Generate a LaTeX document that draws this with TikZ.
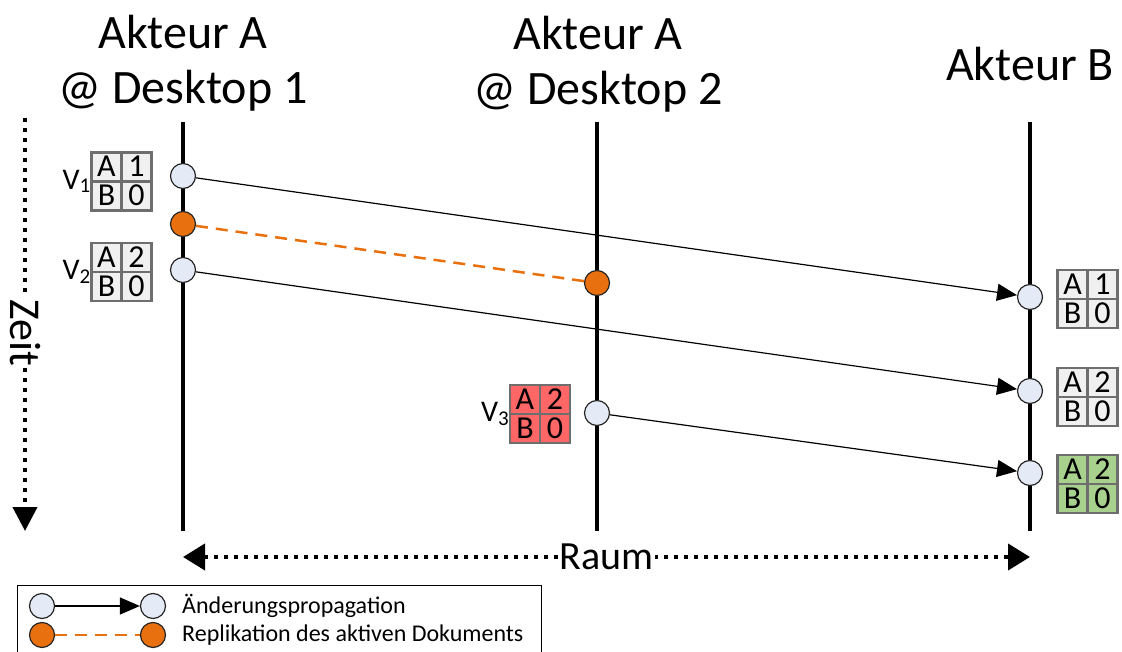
\documentclass[tikz,border=0pt]{standalone}
\usepackage{fontspec}
\setmainfont{Carlito}
\usepackage{xcolor}
\definecolor{DotBlue}{HTML}{E4EBF6}
\definecolor{Repl}{HTML}{E8700F}
\definecolor{CellGray}{HTML}{F0F0F0}
\definecolor{CellLine}{HTML}{6E6E6E}
\definecolor{CellRed}{HTML}{FF6666}
\definecolor{CellGreen}{HTML}{A9D18E}
\usepackage{tikz}
\usetikzlibrary{arrows.meta}

% version vector: name, centre, fill, value A, value B
\newcommand{\vecbox}[5]{%
  \node[cell,fill=#3,anchor=south east] (#1-a) at (#2) {A};
  \node[cell,fill=#3,anchor=south west] (#1-va) at (#2) {#4};
  \node[cell,fill=#3,anchor=north east] (#1-b) at (#2) {B};
  \node[cell,fill=#3,anchor=north west] (#1-vb) at (#2) {#5};
}
\newcommand{\vsub}[1]{V\raisebox{-0.12em}{\fontsize{21}{21}\selectfont #1}}

\begin{document}
\begin{tikzpicture}[x=1pt,y=-1pt,
  title/.style={font=\fontsize{48}{55}\selectfont,align=center},
  lifeline/.style={line width=4pt},
  dot/.style={circle,draw=black!85,line width=1.2pt,fill=DotBlue,minimum size=25pt,inner sep=0pt},
  repdot/.style={dot,fill=Repl},
  cell/.style={draw=CellLine,line width=2.5pt,minimum width=30pt,minimum height=29pt,inner sep=0pt,outer sep=0pt,
    text height=20pt,text depth=0pt,font=\fontsize{32}{32}\selectfont},
  vlabel/.style={font=\fontsize{30}{30}\selectfont,anchor=east,inner sep=1pt},
  prop/.style={-{Triangle[length=20pt,width=17pt]},line width=1.2pt},
  repl/.style={draw=Repl,line width=2.5pt,dash pattern=on 12pt off 8pt},
  axis/.style={line width=4pt,dash pattern=on 4pt off 6pt},
  axislabel/.style={font=\fontsize{40}{40}\selectfont,fill=white,inner sep=2pt},
  legend/.style={font=\fontsize{24}{24}\selectfont,anchor=west,inner sep=0pt}
]
  \useasboundingbox (0,0) rectangle (1122,652);

  % actors
  \node[title] (desk1) at (183,63) {Akteur A\\@ Desktop 1};
  \node[title] (desk2) at (598,64) {Akteur A\\@ Desktop 2};
  \node[title] (actb) at (1030,64) {Akteur B};

  \coordinate (l1top) at (183,122);
  \coordinate (l1bot) at (183,531);
  \coordinate (l2top) at (597,122);
  \coordinate (l2bot) at (597,531);
  \coordinate (l3top) at (1030,122);
  \coordinate (l3bot) at (1030,531);
  \draw[lifeline] (l1top) -- (l1bot);
  \draw[lifeline] (l2top) -- (l2bot);
  \draw[lifeline] (l3top) -- (l3bot);

  % time and space
  \coordinate (t0) at (25,118);
  \coordinate (t1) at (25,531);
  \draw[axis,-{Triangle[length=24pt,width=24pt]}] (t0) -- (t1)
    node[axislabel,font=\fontsize{44}{44}\selectfont,pos=0.52,rotate=-90] (zeit) {Zeit};
  \coordinate (r0) at (183,557);
  \coordinate (r1) at (1030,557);
  \draw[axis,{Triangle[length=22pt,width=26pt]}-{Triangle[length=22pt,width=26pt]}] (r0) -- (r1)
    node[axislabel,pos=0.5] (raum) {Raum};

  % events
  \node[dot] (s1) at (183,176) {};
  \node[repdot] (rep1) at (183,224) {};
  \node[dot] (s2) at (183,270) {};
  \node[repdot] (rep2) at (597,283) {};
  \node[dot] (s3) at (597,413) {};
  \node[dot] (e1) at (1030,297) {};
  \node[dot] (e2) at (1030,391) {};
  \node[dot] (e3) at (1030,473) {};

  \draw[prop] (s1) -- (e1);
  \draw[prop] (s2) -- (e2);
  \draw[prop] (s3) -- (e3);
  \draw[repl] (rep1) -- (rep2);

  % version vectors
  \vecbox{v1}{121.5,181.5}{CellGray}{1}{0}
  \vecbox{v2}{121.5,272}{CellGray}{2}{0}
  \vecbox{v3}{540,414}{CellRed}{2}{0}
  \vecbox{w1}{1087.5,299}{CellGray}{1}{0}
  \vecbox{w2}{1087.5,397}{CellGray}{2}{0}
  \vecbox{w3}{1087.5,484}{CellGreen}{2}{0}
  \node[vlabel] (v1l) at (v1-a.south west) {\vsub{1}};
  \node[vlabel] (v2l) at (v2-a.south west) {\vsub{2}};
  \node[vlabel] (v3l) at (v3-a.south west) {\vsub{3}};

  % legend
  \draw[line width=1pt] (17,653) |- (541,585) -- (541,653);
  \node[dot] (la) at (42,606) {};
  \node[dot] (lb) at (153,606) {};
  \node[repdot] (lc) at (42,635) {};
  \node[repdot] (ld) at (153,635) {};
  \draw[prop] (la) -- (lb);
  \draw[repl] (lc) -- (ld);
  \node[legend] (ltext1) at (182,606) {Änderungspropagation};
  \node[legend] (ltext2) at (182,635) {Replikation des aktiven Dokuments};
\end{tikzpicture}
\end{document}
